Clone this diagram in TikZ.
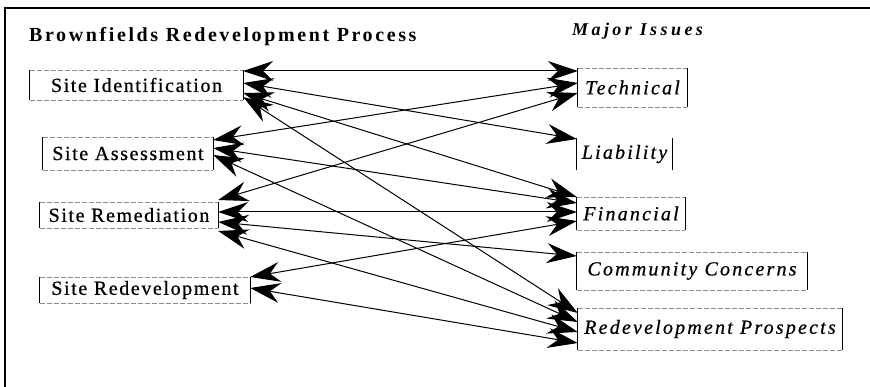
\documentclass[tikz,border=0pt]{standalone}
\usepackage{fontspec}
\setmainfont{Liberation Serif}
\usetikzlibrary{arrows.meta}
\begin{document}
\begin{tikzpicture}[x=1pt,y=-1pt,
  lbl/.style={inner sep=0pt, font=\fontsize{20}{20}\selectfont\addfontfeature{LetterSpace=8,FakeBold=0.6}},
  issue/.style={lbl, font=\fontsize{20}{20}\selectfont\itshape\addfontfeature{LetterSpace=11,FakeBold=0.6}},
  boxtb/.style={draw=black!45, line width=0.5pt, dash pattern=on 5pt off 2pt},
  side/.style={draw=black, line width=0.8pt},
  conn/.style={line width=1pt, {Stealth[length=30pt,width=20pt,inset=10pt]}-{Stealth[length=30pt,width=20pt,inset=10pt]}},
  frame/.style={line width=2.8pt}
]
\useasboundingbox (0,0) rectangle (870,387);
% frame (top and left edges only, as in the scan)
\coordinate (ftr) at (870,8);
\coordinate (ftl) at (5,8);
\coordinate (fbl) at (5,387);
\draw[frame] (ftr) -- (ftl) -- (fbl);

% headings
\node[anchor=base west, inner sep=0pt, font=\fontsize{20}{20}\selectfont\bfseries\addfontfeature{LetterSpace=13}] (h1) at (29,42) {Brownfields Redevelopment Process};
\node[anchor=base west, inner sep=0pt, font=\fontsize{18}{18}\selectfont\bfseries\itshape\addfontfeature{LetterSpace=19}] (h2) at (572,36) {Major Issues};

% left nodes
\node[lbl, minimum width=213pt, minimum height=30pt] (sid) at (136.5,85) {Site Identification};
\node[lbl, minimum width=170pt, minimum height=33pt] (sas) at (128,153.5) {Site Assessment};
\node[lbl, minimum width=178pt, minimum height=26pt] (srm) at (129,215) {Site Remediation};
\node[lbl, minimum width=210pt, minimum height=26pt] (srd) at (145,290) {Site Redevelopment};

% right nodes
\node[issue, minimum width=109pt, minimum height=39pt] (tec) at (632.5,87.5) {Technical};
\node[issue, minimum width=95pt, minimum height=32pt] (lia) at (624.5,154) {Liability};
\node[issue, minimum width=108pt, minimum height=33pt] (fin) at (631,213.5) {Financial};
\node[issue, minimum width=230pt, minimum height=38pt] (cc) at (692,271) {Community Concerns};
\node[issue, minimum width=264pt, minimum height=42pt] (rp) at (710,329) {Redevelopment Prospects};

% box outlines: faint dashed top/bottom, solid sides
\foreach \n in {sid,sas,srm,srd,tec,fin,cc,rp}{
  \draw[boxtb] (\n.north west) -- (\n.north east);
  \draw[boxtb] (\n.south west) -- (\n.south east);
}
\foreach \n in {sid,sas,srm,srd,tec,lia,fin,cc,rp}{
  \draw[side] (\n.north west) -- (\n.south west);
  \draw[side] (\n.north east) -- (\n.south east);
}

% connectors
\draw[conn] ([yshift=14pt]sid.east) -- ([yshift=16.5pt]tec.west);
\draw[conn] ([yshift=2pt]sid.east) -- ([yshift=15pt]lia.west);
\draw[conn] ([yshift=-8pt]sid.east) -- ([yshift=16.5pt]fin.west);
\draw[conn] ([yshift=-12pt]sid.east) -- ([yshift=16pt]rp.west);

\draw[conn] ([yshift=13.5pt]sas.east) -- ([yshift=4.5pt]tec.west);
\draw[conn] ([yshift=5.5pt]sas.east) -- ([yshift=10.5pt]fin.west);
\draw[conn] ([yshift=-1.5pt]sas.east) -- ([yshift=7pt]rp.west);

\draw[conn] ([yshift=15pt]srm.east) -- ([yshift=-5.5pt]tec.west);
\draw[conn] ([yshift=3pt]srm.east) -- ([yshift=1.5pt]fin.west);
\draw[conn] ([yshift=-7pt]srm.east) -- ([yshift=15pt]cc.west);
\draw[conn] ([yshift=-16pt]srm.east) -- ([yshift=-3pt]rp.west);

\draw[conn] ([yshift=13pt]srd.east) -- ([yshift=-7.5pt]fin.west);
\draw[conn] ([yshift=2pt]srd.east) -- ([yshift=-14pt]rp.west);
\end{tikzpicture}
\end{document}
